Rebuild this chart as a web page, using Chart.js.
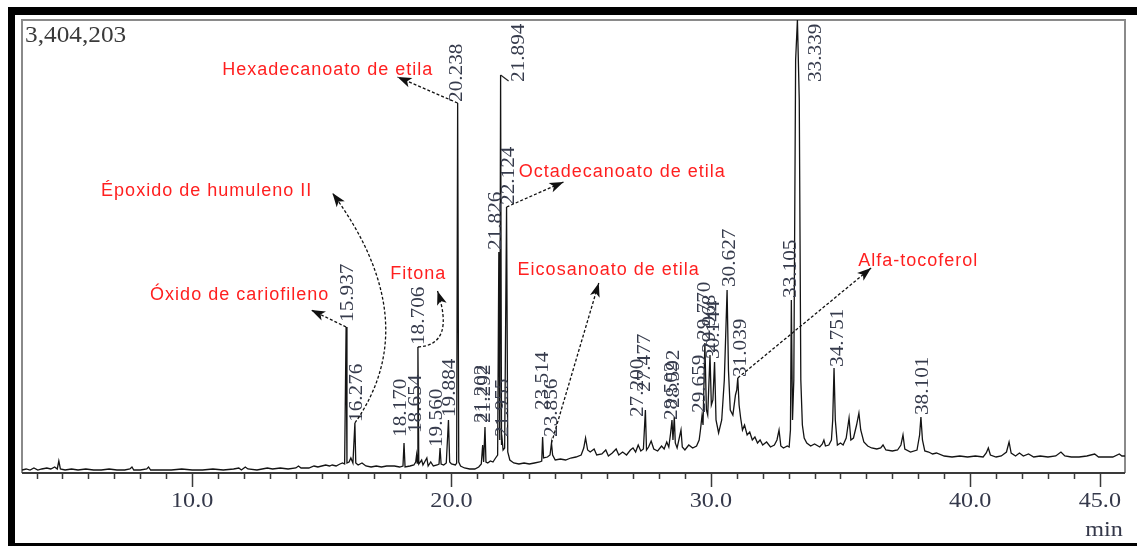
<!DOCTYPE html>
<html>
<head>
<meta charset="utf-8">
<script src="https://cdn.jsdelivr.net/npm/chart.js@4.4.1/dist/chart.umd.min.js"></script>
<style>
  html, body { margin: 0; padding: 0; background: #ffffff; }
  canvas { display: block; }
</style>
</head>
<body>
<canvas id="tic" width="1137" height="546"></canvas>
<script>
// Total ion chromatogram: retention time (min) and detector counts.
const traceTime = [
  3.44, 3.60, 3.75, 3.90, 4.05, 4.20, 4.40, 4.55, 4.70, 4.80, 4.86, 4.92, 5.10, 5.35, 5.60, 5.90,
  6.20, 6.50, 6.80, 7.10, 7.40, 7.60, 7.68, 7.75, 8.00, 8.25, 8.32, 8.40, 8.80, 9.20, 9.60, 10.00,
  10.40, 10.80, 11.20, 11.60, 11.80, 11.90, 12.05, 12.15, 12.50, 12.90, 13.10, 13.40, 13.70, 14.00,
  14.10, 14.20, 14.50, 14.70, 14.85, 15.00, 15.15, 15.30, 15.40, 15.55, 15.70, 15.80, 15.88, 15.937,
  15.97, 16.05, 16.12, 16.20, 16.276, 16.31, 16.40, 16.55, 16.70, 16.90, 17.10, 17.30, 17.50, 17.80,
  18.00, 18.13, 18.17, 18.21, 18.40, 18.55, 18.62, 18.654, 18.68, 18.706, 18.74, 18.85, 18.90, 19.05,
  19.10, 19.20, 19.30, 19.45, 19.52, 19.56, 19.60, 19.70, 19.80, 19.884, 19.93, 20.00, 20.15, 20.20,
  20.238, 20.28, 20.35, 20.50, 20.70, 20.90, 21.05, 21.15, 21.202, 21.24, 21.292, 21.33, 21.40, 21.50,
  21.60, 21.70, 21.78, 21.826, 21.86, 21.894, 21.93, 21.955, 21.99, 22.05, 22.124, 22.17, 22.25, 22.40,
  22.60, 22.80, 23.00, 23.20, 23.40, 23.48, 23.514, 23.55, 23.70, 23.80, 23.856, 23.90, 24.00, 24.20,
  24.40, 24.60, 24.80, 25.00, 25.10, 25.17, 25.25, 25.35, 25.50, 25.60, 25.80, 25.95, 26.05, 26.20,
  26.35, 26.45, 26.60, 26.75, 26.90, 27.00, 27.10, 27.20, 27.30, 27.40, 27.477, 27.52, 27.60, 27.70,
  27.80, 27.95, 28.10, 28.20, 28.30, 28.38, 28.45, 28.502, 28.54, 28.592, 28.63, 28.70, 28.85, 28.90,
  29.00, 29.15, 29.30, 29.45, 29.55, 29.60, 29.659, 29.70, 29.77, 29.83, 29.88, 29.968, 30.02, 30.08,
  30.144, 30.20, 30.30, 30.42, 30.52, 30.58, 30.627, 30.68, 30.75, 30.85, 30.95, 31.00, 31.039, 31.09,
  31.15, 31.22, 31.30, 31.40, 31.50, 31.60, 31.70, 31.80, 31.90, 32.00, 32.15, 32.30, 32.45, 32.55,
  32.63, 32.70, 32.80, 32.95, 33.02, 33.07, 33.105, 33.15, 33.20, 33.27, 33.339, 33.41, 33.47, 33.53,
  33.60, 33.70, 33.85, 34.00, 34.20, 34.30, 34.36, 34.42, 34.55, 34.65, 34.70, 34.751, 34.80, 34.88,
  35.00, 35.10, 35.22, 35.33, 35.40, 35.50, 35.62, 35.71, 35.78, 35.90, 36.05, 36.20, 36.40, 36.55,
  36.64, 36.75, 37.00, 37.20, 37.33, 37.41, 37.48, 37.70, 37.95, 38.05, 38.101, 38.16, 38.25, 38.40,
  38.55, 38.70, 39.00, 39.30, 39.60, 39.90, 40.20, 40.50, 40.62, 40.70, 40.78, 41.00, 41.20, 41.40,
  41.50, 41.58, 41.75, 41.90, 42.05, 42.25, 42.45, 42.70, 43.00, 43.30, 43.50, 43.65, 43.90, 44.20,
  44.50, 44.80, 44.95, 45.20, 45.50, 45.75, 45.85, 45.97
];
const traceCounts = [
  22500, 30100, 22500, 37600, 22500, 30100, 37600, 30100, 45100, 30100, 90200, 30100, 22500, 30100, 22500, 30100,
  22500, 22500, 30100, 22500, 22500, 30100, 45100, 22500, 22500, 30100, 45100, 22500, 22500, 22500, 30100, 22500,
  22500, 30100, 22500, 30100, 37600, 22500, 45100, 30100, 22500, 37600, 30100, 37600, 30100, 37600,
  52600, 37600, 37600, 52600, 45100, 52600, 60100, 52600, 60100, 52600, 67600, 75200, 67600, 1097200,
  75200, 82700, 112700, 75200, 375800, 75200, 60100, 75200, 52600, 45100, 52600, 45100, 52600, 52600,
  45100, 52600, 225500, 45100, 52600, 60100, 82700, 135300, 75200, 946900, 67600, 97700, 60100, 112700,
  52600, 82700, 52600, 60100, 67600, 187900, 67600, 60100, 75200, 398300, 82700, 67600, 60100, 75200,
  2780600, 82700, 52600, 37600, 30100, 30100, 45100, 67600, 210400, 82700, 345700, 82700, 75200, 90200,
  82700, 112700, 135300, 1660800, 248000, 2991000, 210400, 248000, 172800, 187900, 1999000, 157800, 97700, 75200,
  67600, 75200, 67600, 75200, 82700, 90200, 270500, 112700, 120200, 135300, 225500, 135300, 97700, 105200,
  97700, 112700, 120200, 135300, 187900, 263000, 172800, 157800, 180400, 135300, 142800, 172800, 127800, 150300,
  180400, 135300, 157800, 135300, 172800, 187900, 157800, 210400, 165300, 180400, 473400, 172800, 195400, 240500,
  180400, 165300, 202900, 180400, 233000, 195400, 300600, 398300, 248000, 420800, 225500, 187900, 323100, 195400,
  172800, 210400, 187900, 202900, 248000, 323100, 428400, 360700, 977000, 473400, 435900, 886800, 511000, 548600,
  834200, 398300, 300600, 398300, 698900, 1074600, 1375200, 774000, 473400, 435900, 586200, 623700, 713900, 511000,
  413300, 323100, 360700, 285600, 308100, 248000, 270500, 225500, 248000, 210400, 233000, 195400, 210400, 248000,
  323100, 202900, 187900, 202900, 195400, 323100, 1300100, 398300, 698900, 3103700, 3404203, 2803100, 698900, 360700,
  263000, 225500, 202900, 217900, 195400, 217900, 248000, 202900, 210400, 248000, 398300, 789100, 398300, 210400,
  225500, 210400, 263000, 413300, 248000, 263000, 360700, 450900, 323100, 233000, 202900, 187900, 180400, 187900,
  210400, 172800, 165300, 172800, 210400, 285600, 180400, 157800, 172800, 285600, 420800, 248000, 165300, 157800,
  142800, 150300, 127800, 120200, 127800, 120200, 127800, 120200, 150300, 187900, 135300, 120200, 127800, 157800,
  233000, 150300, 127800, 150300, 127800, 142800, 120200, 127800, 120200, 127800, 157800, 127800, 120200, 120200,
  127800, 142800, 120200, 120200, 120200, 142800, 127800, 127800
];

// Retention times printed above the integrated peaks.
const peakLabels = [
  '15.937', '16.276', '18.170', '18.654', '18.706', '19.560', '19.884', '20.238',
  '21.202', '21.292', '21.826', '21.894', '21.955', '22.124', '23.514', '23.856',
  '27.200', '27.477', '28.502', '28.592', '29.659', '29.770', '29.968', '30.144',
  '30.627', '31.039', '33.105', '33.339', '34.751', '38.101'
];

// Identified compounds and the peak each one points to.
const compoundNames = [
  'Hexadecanoato de etila', 'Octadecanoato de etila', 'Époxido de humuleno II',
  'Óxido de cariofileno', 'Fitona', 'Eicosanoato de etila', 'Alfa-tocoferol'
];
const compoundPeaks = ['20.238', '22.124', '16.276', '15.937', '18.706', '23.856', '31.039'];

// Axis values.
const fullScale = 3404203;
const fullScaleLabel = '3,404,203';
const timeMin = 3.44;
const timeMax = 45.97;
const xTickValues = [10, 20, 30, 40, 45];
const xTickLabels = ['10.0', '20.0', '30.0', '40.0', '45.0'];
const xUnitLabel = 'min';

// Placement of each compound name and its arrow, in axis units (time, counts).
const calloutLayout = [
  { text: [11.16, 3028500], tip: [17.92, 2975900] },
  { text: [22.59, 2262000], tip: [24.32, 2186900] },
  { text: [6.49, 2119200], tip: [15.41, 2104200], bend: [19.03, 1142300] },
  { text: [8.38, 1337700], tip: [14.59, 1225000] },
  { text: [17.64, 1495500], tip: [19.46, 1367700], bend: [20.15, 961900] },
  { text: [22.55, 1525500], tip: [25.68, 1427900] },
  { text: [35.68, 1593200], tip: [36.18, 1540600] }
];

// Offsets (pixels) of the retention-time labels: dx sideways, lift above the apex.
const labelNudge = {
  '15.937': { dx: 2, lift: 5 }, '16.276': { dx: 2, lift: 1 }, '18.170': { dx: -3, lift: 6 },
  '18.654': { dx: 0, lift: 22 }, '18.706': { dx: 1, lift: 2 }, '19.560': { dx: -3, lift: 1 },
  '19.884': { dx: 2, lift: 3 }, '20.238': { dx: 0, lift: 1 }, '21.202': { dx: 0, lift: 22 },
  '21.292': { dx: 0, lift: 4 }, '21.826': { dx: -3, lift: 2 }, '21.894': { dx: 19, lift: -7, hook: true },
  '21.955': { dx: 1, lift: 3 }, '22.124': { dx: 3, lift: 2 }, '23.514': { dx: 1, lift: 27 },
  '23.856': { dx: 1, lift: 6 }, '27.200': { dx: 0, lift: 28 }, '27.477': { dx: 0, lift: 18 },
  '28.502': { dx: 0, lift: 0 }, '28.592': { dx: 0, lift: 9 }, '29.659': { dx: -2, lift: 3 },
  '29.770': { dx: 0, lift: 3 }, '29.968': { dx: 0, lift: 2 }, '30.144': { dx: 0, lift: 3 },
  '30.627': { dx: 3, lift: 3 }, '31.039': { dx: 3, lift: 1 }, '33.105': { dx: 0, lift: 2 },
  '33.339': { dx: 19, lift: -62 }, '34.751': { dx: 4, lift: 1 }, '38.101': { dx: 2, lift: 2 }
};

function apexOf(label) {
  const i = traceTime.indexOf(parseFloat(label));
  return { t: traceTime[i], c: traceCounts[i] };
}

function arrowHead(ctx, fx, fy, tx, ty) {
  const a = Math.atan2(ty - fy, tx - fx);
  const len = 14, half = 5;
  ctx.beginPath();
  ctx.moveTo(tx, ty);
  ctx.lineTo(tx - len * Math.cos(a) + half * Math.sin(a), ty - len * Math.sin(a) - half * Math.cos(a));
  ctx.lineTo(tx - len * Math.cos(a) * 0.75, ty - len * Math.sin(a) * 0.75);
  ctx.lineTo(tx - len * Math.cos(a) - half * Math.sin(a), ty - len * Math.sin(a) + half * Math.cos(a));
  ctx.closePath();
  ctx.fill();
}

const framePlugin = {
  id: 'frame',
  beforeDraw(chart) {
    const { ctx, chartArea: a } = chart;
    ctx.save();
    ctx.fillStyle = '#ffffff';
    ctx.fillRect(0, 0, chart.width, chart.height);
    // outer black border
    ctx.fillStyle = '#000000';
    ctx.fillRect(8, 7, chart.width - 8, 8);
    ctx.fillRect(8, 7, 7, chart.height - 7);
    ctx.fillRect(8, 543, chart.width - 8, 3);
    // plot frame
    ctx.strokeStyle = '#8a8a8a';
    ctx.lineWidth = 2;
    ctx.beginPath();
    ctx.moveTo(a.left, a.bottom);
    ctx.lineTo(a.left, a.top);
    ctx.lineTo(a.right, a.top);
    ctx.lineTo(a.right, a.bottom);
    ctx.stroke();
    ctx.restore();
  },
  afterDatasetsDraw(chart) {
    const { ctx, chartArea: a, scales: { x, y } } = chart;
    ctx.save();

    // time axis line and ticks
    ctx.strokeStyle = '#3a3a3a';
    ctx.lineWidth = 2;
    ctx.beginPath();
    ctx.moveTo(a.left, a.bottom);
    ctx.lineTo(a.right, a.bottom);
    ctx.stroke();
    ctx.lineWidth = 1.5;
    ctx.beginPath();
    for (let m = Math.ceil(timeMin); m <= Math.floor(timeMax); m++) {
      const px = Math.round(x.getPixelForValue(m)) + 0.5;
      const major = xTickValues.includes(m);
      ctx.moveTo(px, a.bottom);
      ctx.lineTo(px, a.bottom + (major ? 14 : 6));
    }
    ctx.stroke();

    ctx.fillStyle = '#34384a';
    ctx.font = '21px "Liberation Serif", serif';
    ctx.textAlign = 'center';
    ctx.textBaseline = 'middle';
    xTickValues.forEach((v, i) => {
      ctx.save();
      ctx.translate(x.getPixelForValue(v), 501);
      ctx.scale(1.15, 1);
      ctx.fillText(xTickLabels[i], 0, 0);
      ctx.restore();
    });
    ctx.save();
    ctx.translate(1104, 530);
    ctx.scale(1.15, 1);
    ctx.fillText(xUnitLabel, 0, 0);
    ctx.restore();

    // full-scale intensity
    ctx.save();
    ctx.font = '23px "Liberation Serif", serif';
    ctx.textAlign = 'left';
    ctx.fillStyle = '#3a3a3a';
    ctx.translate(a.left + 3, 36);
    ctx.scale(1.1, 1);
    ctx.fillText(fullScaleLabel, 0, 0);
    ctx.restore();

    // retention-time labels, written upward from the apex
    ctx.font = '18px "Liberation Serif", serif';
    ctx.fillStyle = '#363b4c';
    ctx.textAlign = 'left';
    ctx.textBaseline = 'middle';
    peakLabels.forEach(lbl => {
      const p = apexOf(lbl);
      const n = labelNudge[lbl] || { dx: 1, lift: 3 };
      const px = x.getPixelForValue(p.t);
      const py = y.getPixelForValue(p.c);
      if (n.hook) {
        ctx.save();
        ctx.strokeStyle = '#222';
        ctx.lineWidth = 1.2;
        ctx.beginPath();
        ctx.moveTo(px, py);
        ctx.lineTo(px + 8, py + 6);
        ctx.stroke();
        ctx.restore();
      }
      ctx.save();
      ctx.translate(px + n.dx, py - n.lift);
      ctx.rotate(-Math.PI / 2);
      ctx.scale(1.18, 1);
      ctx.fillText(lbl, 0, 0);
      ctx.restore();
    });

    // compound callouts
    ctx.font = '18px "Liberation Sans", Arial, sans-serif';
    ctx.letterSpacing = '1px';
    ctx.textAlign = 'left';
    ctx.textBaseline = 'middle';
    compoundNames.forEach((name, i) => {
      const L = calloutLayout[i];
      const p = apexOf(compoundPeaks[i]);
      const sx = x.getPixelForValue(p.t), sy = y.getPixelForValue(p.c);
      const tx = x.getPixelForValue(L.tip[0]), ty = y.getPixelForValue(L.tip[1]);
      ctx.strokeStyle = '#111';
      ctx.fillStyle = '#111';
      ctx.lineWidth = 1.3;
      ctx.setLineDash([3, 2]);
      ctx.beginPath();
      ctx.moveTo(sx, sy);
      let fromX = sx, fromY = sy;
      if (L.bend) {
        const bx = x.getPixelForValue(L.bend[0]), by = y.getPixelForValue(L.bend[1]);
        ctx.quadraticCurveTo(bx, by, tx, ty);
        fromX = bx; fromY = by;
      } else {
        ctx.lineTo(tx, ty);
      }
      ctx.stroke();
      ctx.setLineDash([]);
      arrowHead(ctx, fromX, fromY, tx, ty);

      ctx.fillStyle = '#ff1f1f';
      ctx.fillText(name, x.getPixelForValue(L.text[0]), y.getPixelForValue(L.text[1]));
    });
    ctx.letterSpacing = '0px';
    ctx.restore();
  }
};

new Chart(document.getElementById('tic'), {
  type: 'line',
  data: {
    datasets: [{
      data: traceTime.map((t, i) => ({ x: t, y: traceCounts[i] })),
      borderColor: '#141414',
      borderWidth: 1.3,
      pointRadius: 0,
      tension: 0,
      fill: false
    }]
  },
  options: {
    responsive: false,
    animation: false,
    events: [],
    layout: { padding: { left: 22, top: 20, right: 12, bottom: 73 } },
    scales: {
      x: { type: 'linear', min: timeMin, max: timeMax, display: false },
      y: { type: 'linear', min: 0, max: fullScale, display: false }
    },
    plugins: { legend: { display: false }, tooltip: { enabled: false } }
  },
  plugins: [framePlugin]
});
</script>
</body>
</html>
